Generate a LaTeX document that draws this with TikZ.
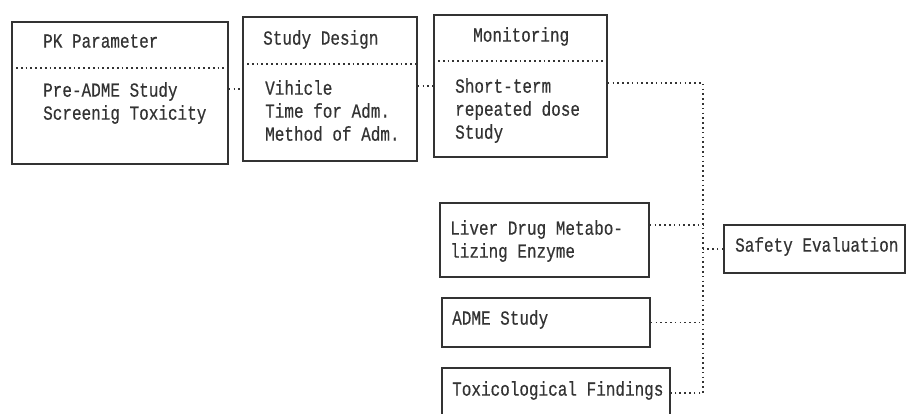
\documentclass[tikz,border=0pt]{standalone}
\usepackage{fontspec}
\setmainfont{Liberation Mono}[FakeStretch=0.8, FakeBold=0.4]
\usetikzlibrary{positioning}
\definecolor{ink}{gray}{0.2}

\tikzset{
  frame/.style={draw=ink, line width=1.5pt, rectangle, inner sep=0pt},
  boxtext/.style={font=\fontsize{20}{23}\selectfont, text=ink, inner sep=0pt, align=left},
  link/.style={draw=ink, line width=1.7pt, dash pattern=on 1.7pt off 3.1pt},
  divider/.style={link}
}

\begin{document}
\begin{tikzpicture}[x=1pt,y=-1pt]
\useasboundingbox (0,0) rectangle (909,413);
% upper row
\node (pk) [frame, minimum width=216pt, minimum height=142pt] at (120,93) {};
\node (sd) [frame, minimum width=174pt, minimum height=144pt] at (330,89) {};
\node (mon) [frame, minimum width=173pt, minimum height=142pt] at (520.5,86) {};
\draw [divider] ([yshift=-47pt]pk.north west) -- ([yshift=-47pt]pk.north east);
\draw [divider] ([yshift=-48pt]sd.north west) -- ([yshift=-48pt]sd.north east);
\draw [divider] ([yshift=-47pt]mon.north west) -- ([yshift=-47pt]mon.north east);
\node (pktitle) [boxtext, anchor=mid west] at (43,45) {PK Parameter};
\node (pkbody) [boxtext, anchor=north west] at (43,82) {Pre-ADME Study\\Screenig Toxicity};
\node (sdtitle) [boxtext, anchor=mid west] at (263,42) {Study Design};
\node (sdbody) [boxtext, anchor=north west] at (265,80) {Vihicle\\Time for Adm.\\Method of Adm.};
\node (montitle) [boxtext, anchor=mid west] at (473,39) {Monitoring};
\node (monbody) [boxtext, anchor=north west] at (455,78) {Short-term\\repeated dose\\Study};
% lower column
\node (liver) [frame, minimum width=209pt, minimum height=74pt] at (544.5,240) {};
\node (livertext) [boxtext, anchor=north west] at (450,220) {Liver Drug Metabo-\\lizing Enzyme};
\node (adme) [frame, minimum width=208pt, minimum height=49pt] at (546,322.5) {};
\node (admetext) [boxtext, anchor=mid west] at (452,322) {ADME Study};
\node (tox) [frame, minimum width=228pt, minimum height=50pt] at (556,393) {};
\node (toxtext) [boxtext, anchor=mid west] at (452,393) {Toxicological Findings};
\node (safe) [frame, minimum width=181pt, minimum height=48pt] at (814.5,249) {};
\node (safetext) [boxtext, anchor=mid west] at (735,249) {Safety Evaluation};
% connectors
\coordinate (bus) at (703,0);
\draw [link] (pk.east |- sd.west) -- (sd.west);
\draw [link] (mon.west -| sd.east) -- (mon.west);
\draw [link] ([yshift=3pt]mon.east) -| (bus |- tox.east) -- (tox.east);
\draw [link] ([yshift=15pt]liver.east) -- ([yshift=15pt]liver.east -| bus);
\draw [link] (adme.east) -- (adme.east -| bus);
\draw [link] (safe.west) -- (safe.west -| bus);
\end{tikzpicture}
\end{document}
